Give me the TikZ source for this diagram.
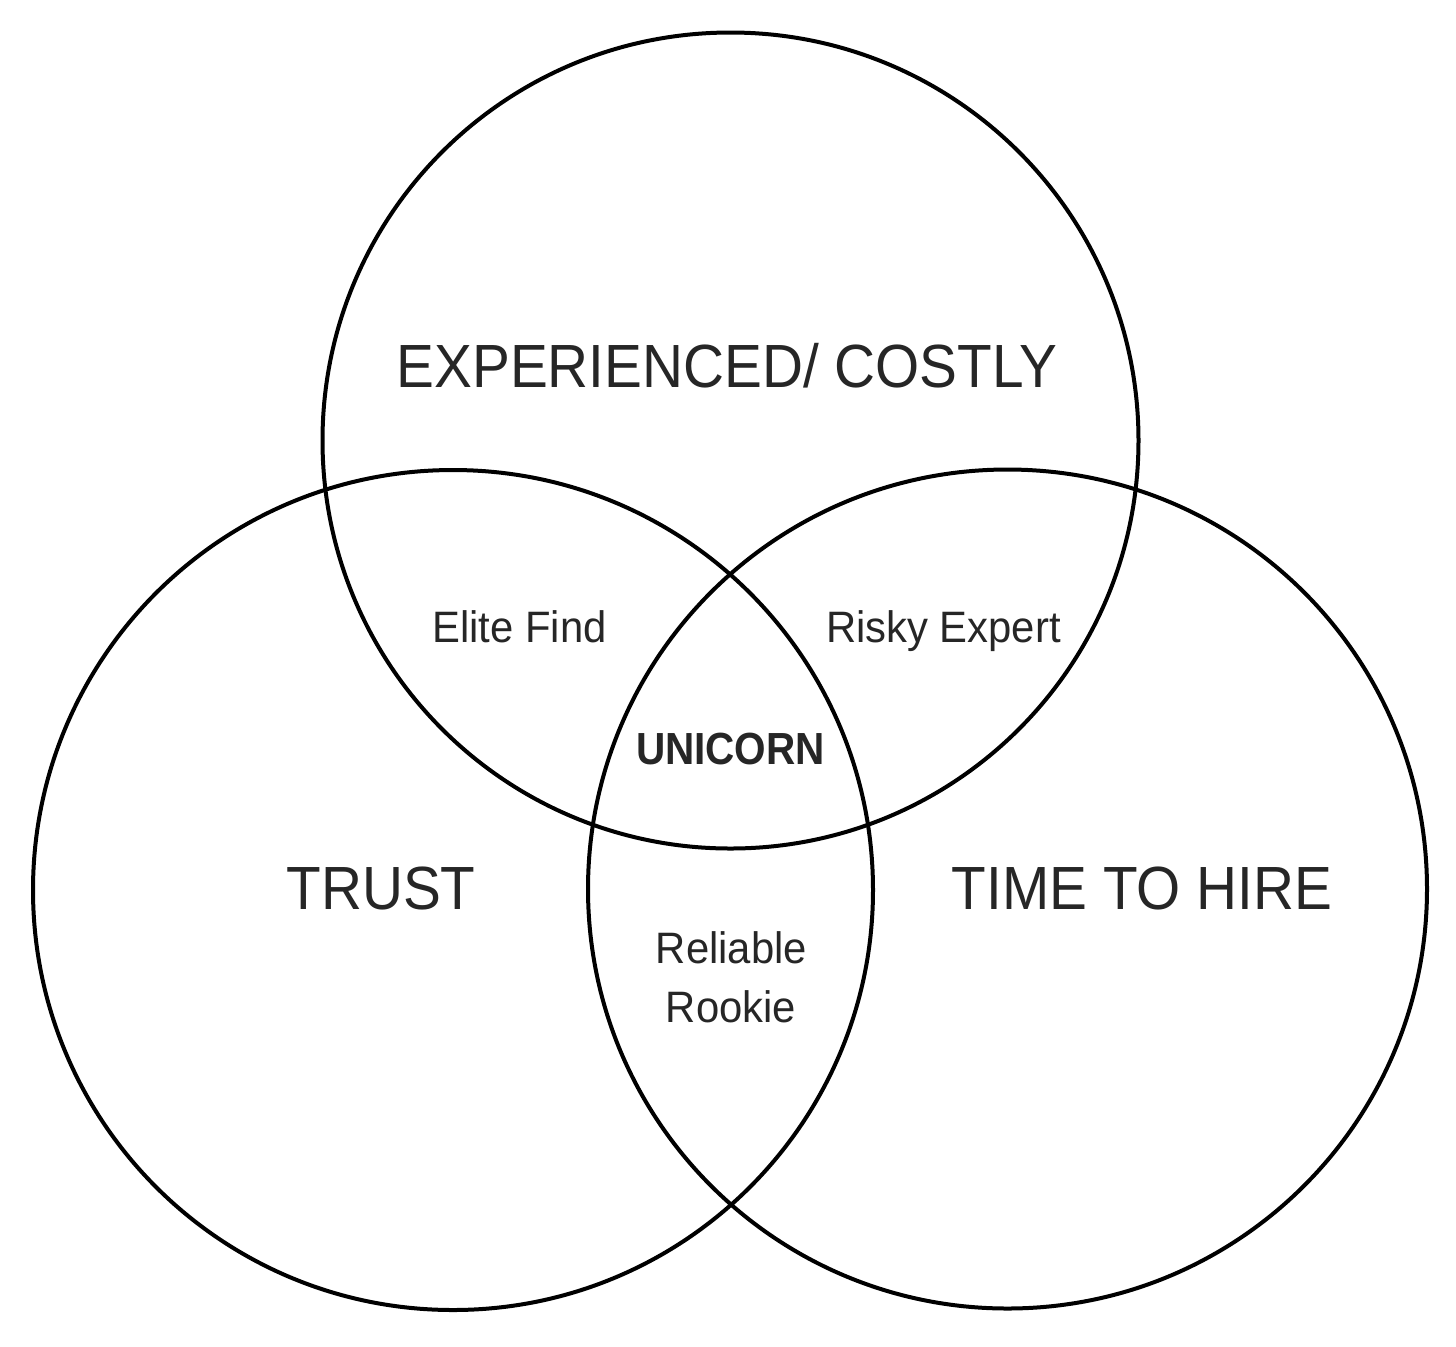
\documentclass[tikz,border=0pt]{standalone}
\usepackage{fontspec}
\setmainfont{Liberation Sans}
\newfontfamily\bigfont[FakeStretch=0.93]{Liberation Sans}
\newfontfamily\smallfont[FakeStretch=0.95]{Liberation Sans}
\newfontfamily\unifont[FakeStretch=0.9]{Liberation Sans Bold}
\definecolor{txt}{HTML}{262626}
\begin{document}
\begin{tikzpicture}[x=0.5pt,y=-0.5pt,
  ring/.style={draw=black,line width=2pt},
  big/.style={text=txt,font=\bigfont\fontsize{30.5}{36}\selectfont,inner sep=0pt,anchor=base},
  small/.style={text=txt,font=\smallfont\fontsize{22}{30}\selectfont,inner sep=0pt,anchor=base},
  uni/.style={text=txt,font=\unifont\fontsize{22.5}{30}\selectfont,inner sep=0pt,anchor=base}]
\useasboundingbox (0,0) rectangle (1456,1346);
\fill[white] (0,0) rectangle (1456,1346);
\draw[ring] (730.5,440.5) circle[radius=408];
\draw[ring] (453,890) circle[radius=420];
\draw[ring] (1007.5,889) circle[radius=419.5];
\node[big] (exp) at (727,387) {EXPERIENCED/ COSTLY};
\node[big] (trust) at (381,909) {TRUST};
\node[big] (time) at (1142,909) {TIME TO HIRE};
\node[small] (elite) at (519.5,642) {Elite Find};
\node[small] (risky) at (943.5,642) {Risky Expert};
\node[uni] (unicorn) at (730.5,764) {UNICORN};
\node[small] (rel) at (731.5,963) {Reliable};
\node[small] (rook) at (731,1022) {Rookie};
\end{tikzpicture}
\end{document}
